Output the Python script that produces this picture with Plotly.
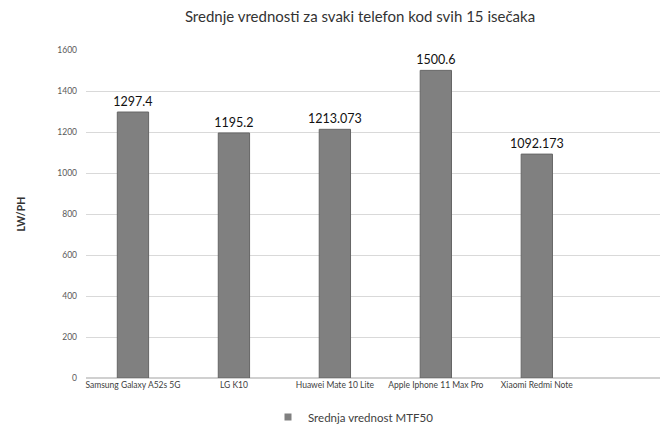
import plotly.graph_objects as go

categories = ["Samsung Galaxy A52s 5G", "LG K10", "Huawei Mate 10 Lite",
              "Apple Iphone 11 Max Pro", "Xiaomi Redmi Note"]
values = [1297.4, 1195.2, 1213.073, 1500.6, 1092.173]
labels = ["1297.4", "1195.2", "1213.073", "1500.6", "1092.173"]
series_name = "Srednja vrednost MTF50"
y_ticks = [0, 200, 400, 600, 800, 1000, 1200, 1400, 1600]

fig = go.Figure()
fig.add_trace(go.Bar(
    x=list(range(len(categories))), y=values, name=series_name,
    text=labels, textposition="outside", cliponaxis=False,
    constraintext="none",
    textfont=dict(family="Lato, Open Sans, sans-serif", size=12.5, color="#111111"),
    marker=dict(color="#808080", line=dict(color="#666666", width=1)),
    width=0.31, showlegend=False,
))
# legend entry (small square swatch like the reference)
fig.add_trace(go.Scatter(
    x=[None], y=[None], mode="markers", name=series_name,
    marker=dict(symbol="square", size=7, color="#808080"),
    showlegend=True,
))

fig.update_layout(
    width=660, height=427,
    paper_bgcolor="white", plot_bgcolor="white",
    margin=dict(l=86, r=0, t=50, b=49),
    font=dict(family="Lato, Open Sans, sans-serif", color="#595959"),
    title=dict(text="Srednje vrednosti za svaki telefon kod svih 15 isečaka",
               x=360/660, xanchor="center", xref="container",
               y=1 - 17/427, yanchor="middle", yref="container",
               font=dict(size=15, color="#333333")),
    showlegend=True,
    legend=dict(orientation="h", x=268/660, xanchor="left", xref="container",
                y=10/427, yanchor="middle", yref="container",
                font=dict(size=11.5, color="#404040"), itemwidth=30),
    xaxis=dict(range=[-0.465, 5.22], tickmode="array",
               tickvals=list(range(len(categories))), ticktext=categories,
               showgrid=False, zeroline=False, showline=False,
               tickfont=dict(size=8.5, color="#404040"), ticks=""),
    yaxis=dict(range=[0, 1600], tickvals=y_ticks, showgrid=True,
               gridcolor="#d9d9d9", gridwidth=1, zeroline=True,
               zerolinecolor="#d0d0d0", showline=False,
               tickfont=dict(size=8.5, color="#595959"), ticks="",
               ticklabelstandoff=8,
               title=dict(text="<b>LW/PH</b>", font=dict(size=10.5, color="#333333"),
                          standoff=29)),
)

fig.write_html("out.html")
